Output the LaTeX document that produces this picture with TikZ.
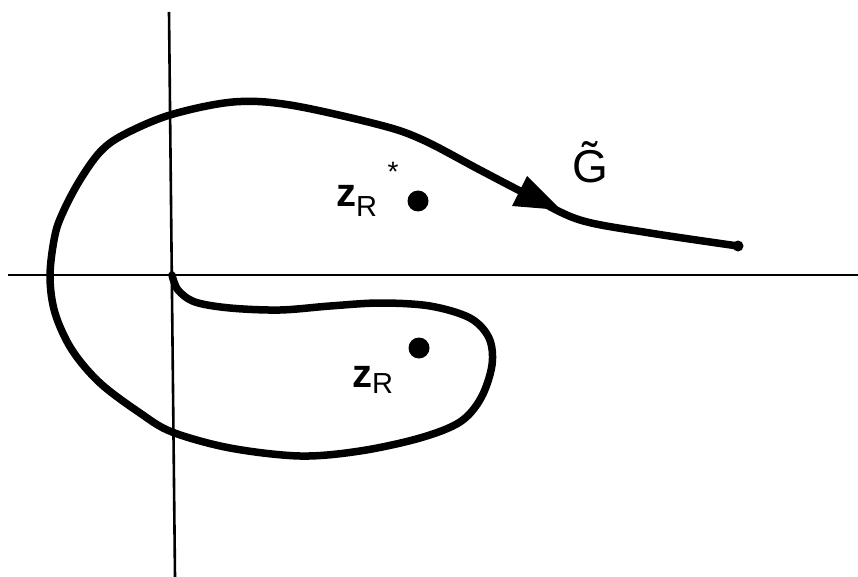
\documentclass[tikz,border=0pt]{standalone}
\usepackage{fontspec}
\setmainfont{Liberation Sans}
\usetikzlibrary{positioning}
\begin{document}
\begin{tikzpicture}[x=1pt, y=-1pt,
  axis/.style={line width=2.6pt},
  contour/.style={line width=7.5pt, line cap=round, line join=round},
  pole/.style={circle, fill, inner sep=0pt, minimum size=21pt},
  lbl/.style={inner sep=0pt, font=\fontsize{40}{40}\selectfont\bfseries}
]
\useasboundingbox (0,0) rectangle (858,577);
% axes
\coordinate (origin) at (172,275);
\draw[axis] (169,12) -- (175,577);
\draw[axis] (8,275) -- (858,275);
% the contour G, from the origin round both lobes to the tail
\draw[contour] plot[smooth, tension=0.55] coordinates {
  (origin) (178,290) (195,302) (230,308) (280,310) (330,306) (380,303)
  (430,306) (470,318) (489,338) (492,365) (481,398) (460,422) (420,438)
  (360,451) (300,456) (230,448) (172,432) (140,413) (100,383) (72,350)
  (55,313) (50,276) (55,235) (64,210) (80,180) (100,152) (123,135)
  (170,115) (233,102) (290,105) (380,125) (423,140) (480,170) (530,196)
  (580,220) (650,233) (738,246)};
\fill (738,246) circle (5.5);
% arrow head on the contour
\fill (561,210) -- (527,176) -- (512,206) -- cycle;
% poles
\node[pole] (upper) at (418,201) {};
\node[pole] (lower) at (419,348) {};
% labels
\node[lbl, anchor=base west] (zstar) at (336,207) {z\raisebox{-10pt}{\mdseries\fontsize{29}{29}\selectfont R}};
\node[font=\fontsize{28}{28}\selectfont, inner sep=0pt] (star) at (393,172) {*};
\node[lbl, anchor=base west] (zlow) at (352,387) {z\raisebox{-6pt}{\mdseries\fontsize{29}{29}\selectfont R}};
\node[inner sep=0pt, font=\fontsize{46}{46}\selectfont] (gname) at (590,162) {\~{G}};
\end{tikzpicture}
\end{document}
